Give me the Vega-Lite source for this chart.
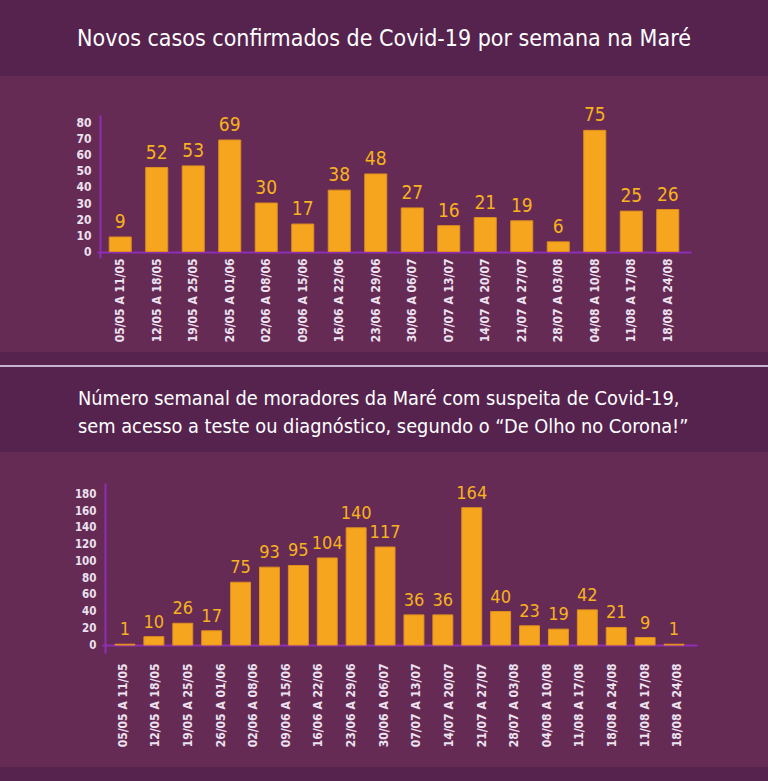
{
  "$schema": "https://vega.github.io/schema/vega-lite/v6.json",
  "background": "#56234f",
  "padding": {"top": 28, "bottom": 14, "left": 0, "right": 0},
  "spacing": 13,
  "bounds": "flush",
  "config": {
    "font": "Noto Sans ExtraCondensed, Noto Sans Condensed, DejaVu Sans Condensed, sans-serif",
    "view": {"stroke": null},
    "title": {"color": "#ffffff", "fontWeight": "normal", "font": "Noto Sans ExtraCondensed, Noto Sans Condensed, DejaVu Sans Condensed, sans-serif"},
    "axis": {
      "domainColor": "#8e2fb5",
      "domainWidth": 2,
      "ticks": false,
      "grid": false,
      "title": null,
      "labelColor": "#ece2ef",
      "labelFont": "DejaVu Sans Condensed, sans-serif",
      "labelFontWeight": "bold"
    }
  },
  "vconcat": [
    {
      "width": 768,
      "height": 276,
      "view": {"fill": "#652b55", "stroke": null},
      "title": {"text": "Novos casos confirmados de Covid-19 por semana na Maré", "fontSize": 23, "offset": 25, "anchor": "middle"},
      "data": {"values": [
        {"semana": "05/05 A 11/05", "casos": 9},
        {"semana": "12/05 A 18/05", "casos": 52},
        {"semana": "19/05 A 25/05", "casos": 53},
        {"semana": "26/05 A 01/06", "casos": 69},
        {"semana": "02/06 A 08/06", "casos": 30},
        {"semana": "09/06 A 15/06", "casos": 17},
        {"semana": "16/06 A 22/06", "casos": 38},
        {"semana": "23/06 A 29/06", "casos": 48},
        {"semana": "30/06 A 06/07", "casos": 27},
        {"semana": "07/07 A 13/07", "casos": 16},
        {"semana": "14/07 A 20/07", "casos": 21},
        {"semana": "21/07 A 27/07", "casos": 19},
        {"semana": "28/07 A 03/08", "casos": 6},
        {"semana": "04/08 A 10/08", "casos": 75},
        {"semana": "11/08 A 17/08", "casos": 25},
        {"semana": "18/08 A 24/08", "casos": 26}
      ]},
      "encoding": {
        "x": {
          "field": "semana", "type": "nominal", "sort": null,
          "scale": {"range": [97, 691], "paddingInner": 0.397, "paddingOuter": 0.335},
          "axis": {"offset": -100, "labelAngle": 270, "labelAlign": "right", "labelBaseline": "middle", "labelPadding": 6, "labelFontSize": 12}
        },
        "y": {
          "field": "casos", "type": "quantitative",
          "scale": {"domain": [-4, 84.5], "range": [182, 39], "nice": false, "zero": false},
          "axis": {"offset": -100, "values": [0, 10, 20, 30, 40, 50, 60, 70, 80], "labelPadding": 9, "labelFontSize": 12}
        }
      },
      "layer": [
        {
          "mark": {"type": "bar", "color": "#f6a61e", "stroke": "#e08f1c", "strokeWidth": 1},
          "encoding": {"y2": {"datum": 0}}
        },
        {
          "mark": {"type": "text", "color": "#f7b21c", "fontSize": 19, "baseline": "bottom", "dy": -5},
          "encoding": {"text": {"field": "casos", "type": "quantitative"}}
        }
      ]
    },
    {
      "width": 768,
      "height": 2,
      "view": {"fill": "#c6b3cf", "stroke": null},
      "data": {"values": [{}]},
      "mark": {"type": "point", "opacity": 0},
      "encoding": {}
    },
    {
      "width": 768,
      "height": 59,
      "view": {"stroke": null},
      "data": {"values": [{}]},
      "mark": {"type": "point", "opacity": 0},
      "encoding": {}
    },
    {
      "width": 768,
      "height": 315,
      "view": {"fill": "#652b55", "stroke": null},
      "title": {
        "text": ["Número semanal de moradores da Maré com suspeita de Covid-19,", "sem acesso a teste ou diagnóstico, segundo o “De Olho no Corona!”"],
        "fontSize": 19.8, "lineHeight": 28, "offset": 15, "anchor": "start", "dx": 78
      },
      "resolve": {"scale": {"x": "independent"}, "axis": {"x": "independent"}},
      "layer": [
        {
          "data": {"values": [
            {"ordem": 1, "moradores": 1},
            {"ordem": 2, "moradores": 10},
            {"ordem": 3, "moradores": 26},
            {"ordem": 4, "moradores": 17},
            {"ordem": 5, "moradores": 75},
            {"ordem": 6, "moradores": 93},
            {"ordem": 7, "moradores": 95},
            {"ordem": 8, "moradores": 104},
            {"ordem": 9, "moradores": 140},
            {"ordem": 10, "moradores": 117},
            {"ordem": 11, "moradores": 36},
            {"ordem": 12, "moradores": 36},
            {"ordem": 13, "moradores": 164},
            {"ordem": 14, "moradores": 40},
            {"ordem": 15, "moradores": 23},
            {"ordem": 16, "moradores": 19},
            {"ordem": 17, "moradores": 42},
            {"ordem": 18, "moradores": 21},
            {"ordem": 19, "moradores": 9},
            {"ordem": 20, "moradores": 1}
          ]},
          "encoding": {
            "x": {
              "field": "ordem", "type": "ordinal", "sort": null,
              "scale": {"range": [102, 697], "paddingInner": 0.31, "paddingOuter": 0.45},
              "axis": null
            },
            "y": {
              "field": "moradores", "type": "quantitative",
              "scale": {"domain": [-9.5, 193.5], "range": [201, 31], "nice": false, "zero": false},
              "axis": {"offset": -105, "values": [0, 20, 40, 60, 80, 100, 120, 140, 160, 180], "labelPadding": 9, "labelFontSize": 11.5}
            }
          },
          "layer": [
            {
              "mark": {"type": "bar", "color": "#f6a61e", "stroke": "#e08f1c", "strokeWidth": 1},
              "encoding": {"y2": {"datum": 0}}
            },
            {
              "mark": {"type": "text", "color": "#f7b21c", "fontSize": 18, "baseline": "bottom", "dy": -5},
              "encoding": {"text": {"field": "moradores", "type": "quantitative"}}
            }
          ]
        },
        {
          "data": {"values": [
            {"semana": "05/05 A 11/05"},
            {"semana": "12/05 A 18/05"},
            {"semana": "19/05 A 25/05"},
            {"semana": "26/05 A 01/06"},
            {"semana": "02/06 A 08/06"},
            {"semana": "09/06 A 15/06"},
            {"semana": "16/06 A 22/06"},
            {"semana": "23/06 A 29/06"},
            {"semana": "30/06 A 06/07"},
            {"semana": "07/07 A 13/07"},
            {"semana": "14/07 A 20/07"},
            {"semana": "21/07 A 27/07"},
            {"semana": "28/07 A 03/08"},
            {"semana": "04/08 A 10/08"},
            {"semana": "11/08 A 17/08"},
            {"semana": "18/08 A 24/08"},
            {"semana": "11/08 A 17/08\u200b"},
            {"semana": "18/08 A 24/08\u200b"}
          ]},
          "mark": {"type": "point", "opacity": 0},
          "encoding": {
            "x": {
              "field": "semana", "type": "ordinal", "sort": null,
              "scale": {"type": "point", "range": [102, 697], "padding": 0.625},
              "axis": {"offset": -122, "labelAngle": 270, "labelAlign": "right", "labelBaseline": "middle", "labelPadding": 18, "labelFontSize": 12}
            }
          }
        }
      ]
    }
  ]
}
